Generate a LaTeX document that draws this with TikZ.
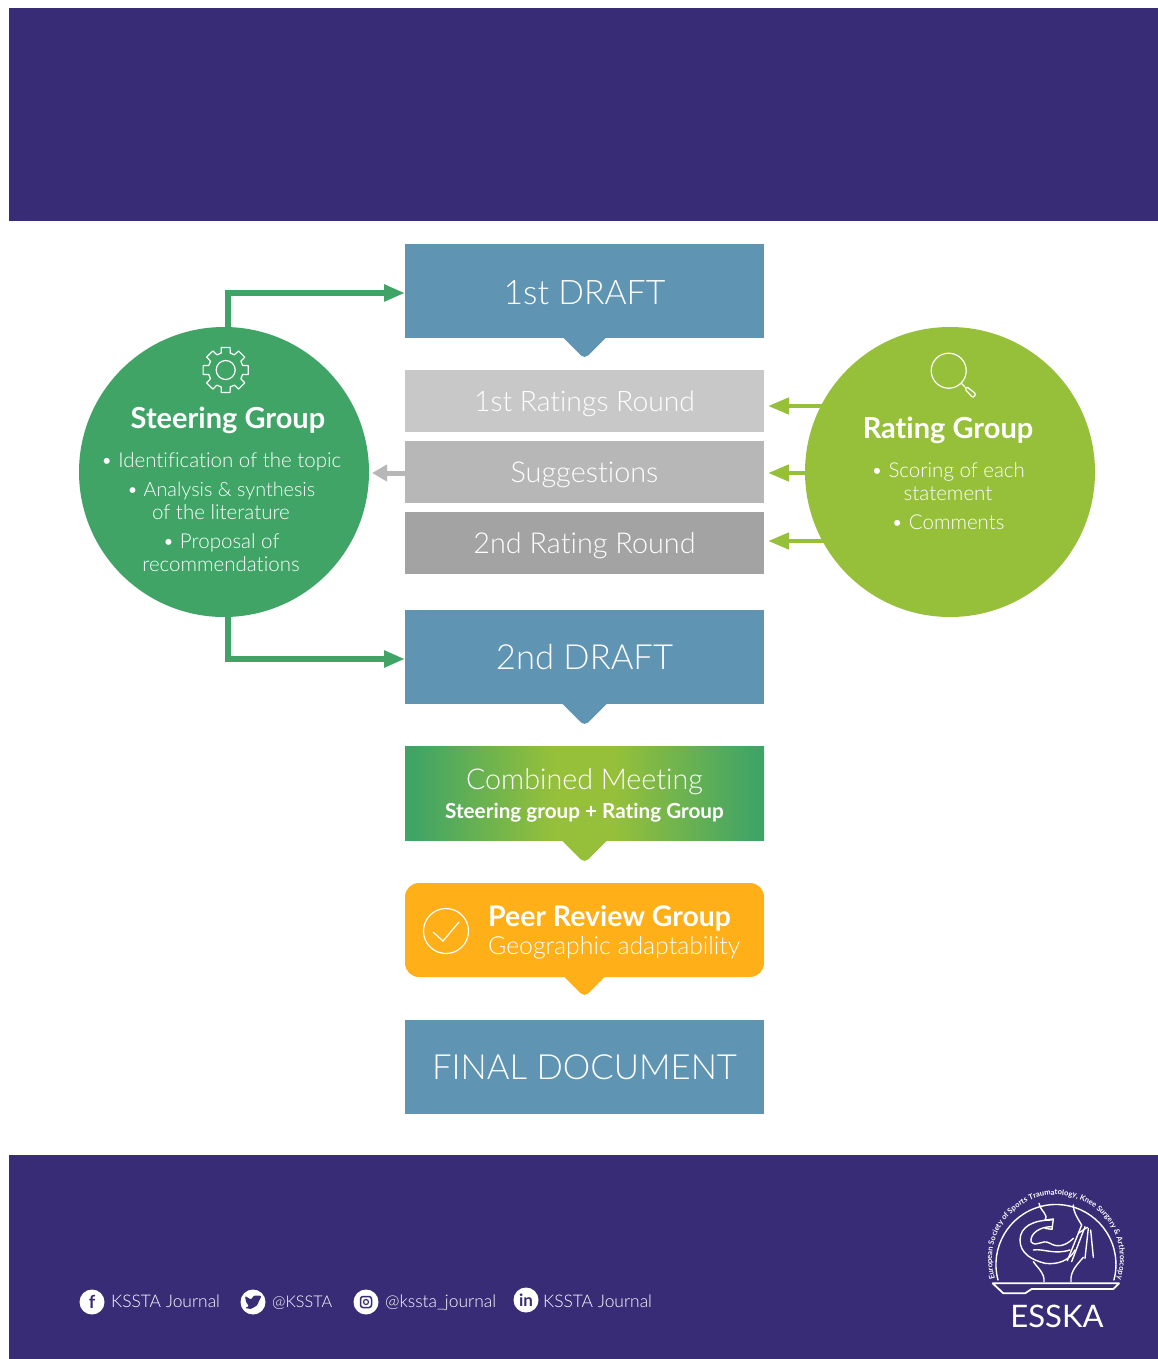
\documentclass[tikz,border=0pt]{standalone}
\usepackage{fontspec}
\setmainfont{Lato}[UprightFont={* Light},BoldFont={* Bold},Ligatures=NoCommon]
\newfontfamily\latoreg{Lato}
\usetikzlibrary{decorations.text,arrows.meta,shadings}
\definecolor{band}{HTML}{392C76}
\definecolor{boxblue}{HTML}{6094B3}
\definecolor{gA}{HTML}{C8C8C8}
\definecolor{gB}{HTML}{B7B7B7}
\definecolor{gC}{HTML}{A3A3A3}
\definecolor{steer}{HTML}{3FA466}
\definecolor{rate}{HTML}{97C03A}
\definecolor{peer}{HTML}{FFAF18}
\pgfdeclarehorizontalshading{combined}{100bp}{color(0bp)=(steer); color(26bp)=(steer); color(46bp)=(rate); color(54bp)=(rate); color(74bp)=(steer); color(100bp)=(steer)}
\newcommand{\lowered}[2]{\raisebox{-#1pt}[0pt][0pt]{#2}}
\tikzset{
 x=1pt,y=-1pt,
 flow/.style={minimum width=359pt,inner sep=0pt,outer sep=0pt,text=white},
 tall/.style={flow,minimum height=94pt},
 short/.style={flow,minimum height=62pt},
 notch/.style={rounded corners=5pt},
 group/.style={circle,minimum size=290pt,inner sep=0pt,outer sep=0pt},
 lab/.style={text=white,inner sep=0pt,anchor=base,font=\fontsize{20.5}{20.5}\selectfont},
 head/.style={text=white,inner sep=0pt,anchor=base,font=\fontsize{29}{29}\selectfont\bfseries},
 foot/.style={text=white,inner sep=0pt,anchor=base west,font=\fontsize{17.4}{17.4}\selectfont},
 gline/.style={draw=steer,line width=5.5pt,-{Triangle[length=21pt,width=16pt]}},
 rline/.style={draw=rate,line width=4.5pt,-{Triangle[length=21pt,width=16pt]}},
 xline/.style={draw=gB,line width=5pt,-{Triangle[length=15pt,width=16pt]}},
 ic/.style={circle,fill=white,minimum size=25pt,inner sep=0pt},
 ico/.style={draw=white,line width=1.2pt,line join=round},
 logo/.style={draw=white,line width=1.4pt,line join=round,line cap=round},
}
\begin{document}
\begin{tikzpicture}
\useasboundingbox (0,0) rectangle (1158,1359);
\fill[white] (0,0) rectangle (1158,1359);
\fill[band] (9,8) rectangle (1158,220.5);
\fill[band] (9,1155) rectangle (1158,1359);

% notches
\fill[boxblue,notch] (555.5,330) -- (584.5,359) -- (613.5,330) -- cycle;
\fill[boxblue,notch] (554.5,696) -- (584.5,726) -- (614.5,696) -- cycle;
\fill[rate,notch] (553.5,832) -- (584.5,863) -- (615.5,832) -- cycle;
\fill[peer,notch] (556.5,969) -- (584.5,997) -- (612.5,969) -- cycle;

% flow boxes
\node[tall,fill=boxblue,font=\fontsize{33.8}{34}\selectfont] (d1) at (584.5,291) {\lowered{13.5}{1st DRAFT}};
\node[short,fill=gA,font=\fontsize{28.3}{28}\selectfont] (r1) at (584.5,401) {\lowered{10.5}{1st Ratings Round}};
\node[short,fill=gB,font=\fontsize{28.8}{28}\selectfont] (sg) at (584.5,472) {\lowered{10.5}{Suggestions}};
\node[short,fill=gC,font=\fontsize{28.8}{28}\selectfont] (r2) at (584.5,543) {\lowered{10.5}{2nd Rating Round}};
\node[tall,fill=boxblue,font=\fontsize{34.6}{34}\selectfont] (d2) at (584.5,657) {\lowered{12.5}{2nd DRAFT}};
\node[tall,shading=combined,shading angle=0] (cm) at (584.5,793) {};
\node[text=white,inner sep=0pt,anchor=base,font=\fontsize{28.7}{28}\selectfont] (cmt) at (584.5,789) {Combined Meeting};
\node[text=white,inner sep=0pt,anchor=base,font=\fontsize{20.7}{20}\selectfont\bfseries] (cms) at (584.5,818.5) {Steering group + Rating Group};
\node[tall,fill=peer,rounded corners=14pt] (pr) at (584.5,930) {};
\node[text=white,inner sep=0pt,anchor=base west,font=\fontsize{28.4}{28}\selectfont\bfseries] (prt) at (488,926) {Peer Review Group};
\node[text=white,inner sep=0pt,anchor=base west,font=\fontsize{24.8}{24}\selectfont] (prs) at (488,954) {Geographic adaptability};
\node[circle,draw=white,line width=1.2pt,minimum size=45pt,inner sep=0pt] (chk) at (446,931) {};
\draw[white,line width=1.2pt] (433,932) -- (443,941) -- (459,922);
\node[tall,fill=boxblue,font=\fontsize{34.7}{34}\selectfont] (fd) at (584.5,1067) {\lowered{12}{FINAL DOCUMENT}};

% group circles
\node[group,fill=steer] (sc) at (224,472) {};
\node[group,fill=rate] (rc) at (950,472) {};

% connectors
\draw[gline] ([xshift=4pt,yshift=-2pt]sc.north) |- ([yshift=-2pt]d1.west);
\draw[gline] ([xshift=4pt,yshift=2pt]sc.south) |- ([yshift=-2pt]d2.west);
\draw[xline] ([yshift=-1pt]sg.west) -- ([xshift=3pt,yshift=-1pt]sc.east);
\coordinate (ra) at ([yshift=-5pt]r1.east);
\coordinate (rb) at ([yshift=2pt]r2.east);
\draw[rline] (rc.center |- ra) ++(-125,0) -- ++(-57,0);
\draw[rline] ([xshift=4pt,yshift=-1pt]rc.west) -- ++(-41,0);
\draw[rline] (rc.center |- rb) ++(-125,0) -- ++(-57,0);

% steering text
\node[head] (st) at (228,428) {Steering Group};
\node[lab] (s1) at (221,467.5) {• Identification of the topic};
\node[lab,font=\fontsize{19.8}{20}\selectfont] (s2) at (221,496.5) {• Analysis \& synthesis};
\node[lab] (s3) at (221,519.5) {of the literature};
\node[lab] (s4) at (221,548.5) {• Proposal of};
\node[lab] (s5) at (221,571.5) {recommendations};
% gear
\begin{scope}[shift={(225.7,370)}]
\draw[ico] (-15:17.5) -- (-11:23) -- (11:23) -- (15:17.5)
 -- (30:17.5) -- (34:23) -- (56:23) -- (60:17.5)
 -- (75:17.5) -- (79:23) -- (101:23) -- (105:17.5)
 -- (120:17.5) -- (124:23) -- (146:23) -- (150:17.5)
 -- (165:17.5) -- (169:23) -- (191:23) -- (195:17.5)
 -- (210:17.5) -- (214:23) -- (236:23) -- (240:17.5)
 -- (255:17.5) -- (259:23) -- (281:23) -- (285:17.5)
 -- (300:17.5) -- (304:23) -- (326:23) -- (330:17.5) -- cycle;
\draw[ico] (0,0) circle (9.5);
\end{scope}

% rating text
\node[head] (rt) at (948,438) {Rating Group};
\node[lab] (q1) at (948,477.5) {• Scoring of each};
\node[lab] (q2) at (948,500) {statement};
\node[lab] (q3) at (948,529) {• Comments};
\draw[ico] (948.7,370.7) circle (17.5);
\draw[ico] (961,383) -- (964.5,386.5);
\draw[ico,rounded corners=2pt] (964.5,388.5) -- (966.5,386.5) -- (976,394) -- (973,398) -- cycle;

% social
\node[ic] (fb) at (92,1302) {};
\node[text=band,inner sep=0pt,font=\fontsize{18}{18}\selectfont\bfseries] at (fb) {f};
\node[foot] (fbt) at (111,1307) {KSSTA Journal};
\node[ic] (tw) at (253,1302) {};
\fill[band,rounded corners=1pt] (245,1296) -- (251,1299.5) -- (254,1295.5) -- (258,1295.5) -- (261.5,1296) -- (259.5,1300) -- (257,1305.5) -- (251,1309) -- (245,1308) -- (249,1306) -- (246,1302) -- cycle;
\node[foot,font=\fontsize{16.2}{16}\selectfont] (twt) at (272,1307) {@KSSTA};
\node[ic] (ig) at (366,1302) {};
\draw[band,line width=1.5pt,rounded corners=2.5pt] (360.5,1296.5) rectangle (371.5,1307.5);
\draw[band,line width=1.2pt] (366,1302) circle (2.5);
\node[foot] (igt) at (385,1307) {@kssta\_journal};
\node[ic] (li) at (526,1300) {};
\node[text=band,inner sep=0pt,font=\fontsize{17}{17}\selectfont\bfseries] at (li) {in};
\node[foot] (lit) at (543,1307) {KSSTA Journal};

% logo
\path[postaction={decorate,decoration={text along path,text align=center,text={|\fontsize{7.6}{7.6}\selectfont\bfseries\color{white}|European Society of Sports Traumatology, Knee Surgery {\&} Arthroscopy}}}]
 (994.8,1277.7) arc[start angle=197,end angle=-17,x radius=64,y radius=-64];
\draw[logo] (998,1280) arc[start angle=195,end angle=-15,x radius=60,y radius=-60];
\begin{scope}[shift={(970,1170)},x=0.3333pt,y=-0.3333pt]
\draw[logo] (207,100) .. controls (215,130) and (235,130) .. (225,150);
\draw[logo] (310,105) .. controls (310,125) and (320,140) .. (335,165);
\draw[logo] (190,275) .. controls (200,290) and (225,310) .. (222,335);
\draw[logo] (340,262) .. controls (320,285) and (300,305) .. (303,335);
\draw[logo] (245,150) .. controls (190,150) and (150,170) .. (150,210) .. controls (150,250) and (185,270) .. (225,280) .. controls (265,285) and (300,270) .. (315,240);
\draw[logo] (245,170) .. controls (210,170) and (180,190) .. (183,215) .. controls (200,235) and (215,205) .. (240,220) .. controls (265,235) and (290,225) .. (310,205);
\draw[logo] (190,240) .. controls (220,235) and (250,255) .. (300,240);
\draw[logo] (225,150) -- (250,147) -- (246,178) -- (225,175);
\draw[logo] (335,165) -- (292,272);
\draw[logo] (345,170) -- (305,275);
\draw[logo] (355,175) -- (345,265);
\draw[logo] (362,180) -- (370,262);
\draw[logo] (325,190) -- (352,172);
\draw[logo,line width=1.8pt] (68,340) -- (447,340) -- (430,357) -- (185,357) -- (165,370) -- (100,370) -- cycle;
\end{scope}
\node[text=white,inner sep=0pt,font=\fontsize{31}{31}\selectfont\latoreg] (esska) at (1057,1316) {ESSKA};
\end{tikzpicture}
\end{document}
